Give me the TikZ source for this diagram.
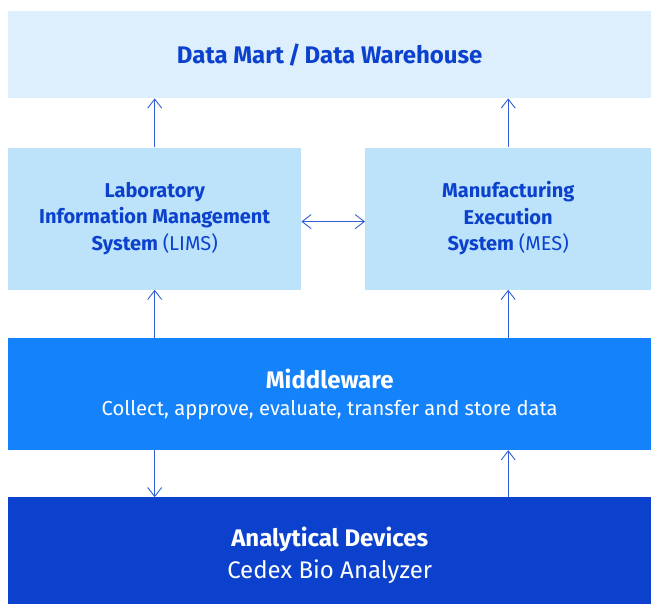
\documentclass[tikz,border=0pt]{standalone}
\usepackage{fontspec}
\setmainfont{Fira Sans}
\usepackage{tikz}
\usetikzlibrary{positioning}
\usetikzlibrary{arrows.meta}

\definecolor{rdark}{HTML}{0B41CD}
\definecolor{rmid}{HTML}{1482FA}
\definecolor{rlight}{HTML}{BDE3FB}
\definecolor{rpale}{HTML}{DDEFFC}
\tikzset{
  box/.style={inner sep=0pt,align=center,text=rdark},
  arr/.style={draw=rdark!85,line width=0.9pt,-{Straight Barb[length=9pt,width=14pt]}},
  twoarr/.style={draw=rdark!85,line width=0.9pt,{Straight Barb[length=9pt,width=14pt]}-{Straight Barb[length=9pt,width=14pt]}}
}

\begin{document}
\begin{tikzpicture}
\useasboundingbox (0,0) rectangle (651pt,-604pt);
\node[box,fill=rpale,minimum width=643pt,minimum height=87pt,anchor=north west,font=\fontsize{24}{28}\selectfont\bfseries](dw) at (8pt,-11pt){Data Mart\,/\,Data Warehouse};
\node[box,fill=rlight,minimum width=293pt,minimum height=142pt,below=49pt of dw.south west,anchor=north west,font=\fontsize{20}{26.5}\selectfont\bfseries](lims){Laboratory\\Information Management\\System {\mdseries(LIMS)}};
\node[box,fill=rlight,minimum width=286pt,minimum height=142pt,below=49pt of dw.south east,anchor=north east,font=\fontsize{20}{26.5}\selectfont\bfseries](mes){Manufacturing\\Execution\\System {\mdseries(MES)}};
\node[box,fill=rmid,text=white,minimum width=643pt,minimum height=112pt,below=48pt of lims.south west,anchor=north west,font=\fontsize{20.2}{27}\selectfont](mw){{\fontsize{24}{27}\selectfont\bfseries Middleware}\\Collect, approve, evaluate, transfer and store data};
\node[box,fill=rdark,text=white,minimum width=643pt,minimum height=116pt,below=47pt of mw.south west,anchor=north west,font=\fontsize{24}{32}\selectfont](ad){{\bfseries Analytical Devices}\\Cedex Bio Analyzer};
\path[arr] (lims.north) -- (lims.north |- dw.south);
\path[arr] (mes.north) -- (mes.north |- dw.south);
\path[arr] (mw.north -| lims) -- (lims.south);
\path[arr] (mw.north -| mes) -- (mes.south);
\path[arr] (mw.south -| lims) -- (ad.north -| lims);
\path[arr] (ad.north -| mes) -- (mw.south -| mes);
\path[twoarr] ([yshift=-3pt]lims.east) -- ([yshift=-3pt]mes.west);
\end{tikzpicture}
\end{document}
